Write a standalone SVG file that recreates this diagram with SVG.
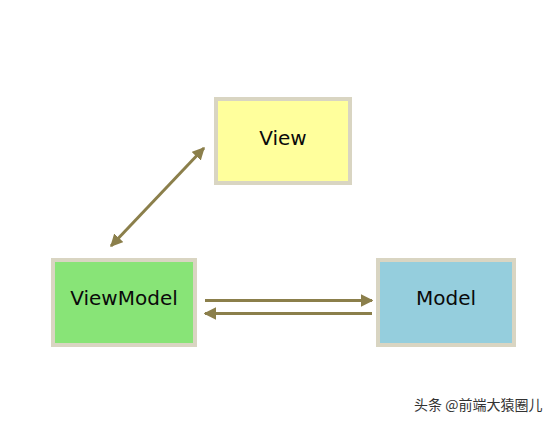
<svg xmlns="http://www.w3.org/2000/svg" width="556" height="423" viewBox="0 0 556 423">
<style>
.box{stroke:#d9d5c2;stroke-width:4}
.lbl{font-family:"DejaVu Sans",Verdana,sans-serif;font-size:20px;fill:#0a0a0a;text-anchor:middle}
.ln{stroke:#8b7f4b;stroke-width:3;fill:none}
.wm{font-family:"Noto Sans CJK SC","DejaVu Sans",sans-serif;font-size:14px;fill:#333}
</style>
<defs>
<marker id="ah" viewBox="0 0 10 10" refX="9" refY="5" markerWidth="4.2" markerHeight="4.2" orient="auto-start-reverse" markerUnits="strokeWidth">
<path d="M0,0 L10,5 L0,10 Z" fill="#8b7f4b"/>
</marker>
</defs>
<rect width="556" height="423" fill="#ffffff"/>
<g id="connectors">
<line class="ln" x1="111" y1="246" x2="204" y2="148" marker-start="url(#ah)" marker-end="url(#ah)"/>
<line class="ln" x1="205" y1="300.5" x2="372" y2="300.5" marker-end="url(#ah)"/>
<line class="ln" x1="372" y1="313.5" x2="205" y2="313.5" marker-end="url(#ah)"/>
</g>
<g id="view">
<rect class="box" x="216" y="99" width="134" height="84" fill="#ffff9c"/>
<text class="lbl" x="283" y="144.5">View</text>
</g>
<g id="viewmodel">
<rect class="box" x="53" y="260" width="142" height="85" fill="#88e477"/>
<text class="lbl" x="124" y="305">ViewModel</text>
</g>
<g id="model">
<rect class="box" x="378" y="260" width="136" height="85" fill="#95cedd"/>
<text class="lbl" x="446" y="305">Model</text>
</g>
<text class="wm" x="414" y="410">头条 @前端大猿圈儿</text>
</svg>
